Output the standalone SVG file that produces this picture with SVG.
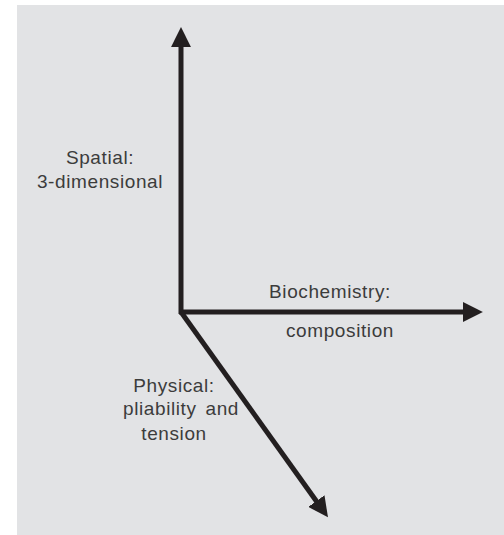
<svg xmlns="http://www.w3.org/2000/svg" width="504" height="535" viewBox="0 0 504 535">
<style>
.ax{stroke:#231f20;stroke-width:5;fill:none}
.lbl{font-family:"Liberation Sans",Arial,sans-serif;font-size:19px;fill:#3c3c3c;letter-spacing:0.6px;text-anchor:middle}
</style>
<defs>
<marker id="ah" markerUnits="userSpaceOnUse" markerWidth="20" markerHeight="20" viewBox="0 0 18 18" refX="1" refY="9" orient="auto">
<path d="M0,0 L18,9 L0,18 Z" fill="#231f20"/>
</marker>
</defs>
<rect x="17" y="5" width="487" height="530" fill="#e2e3e5"/>
<g id="connectors">
<path class="ax" d="M181,314 L181,46" marker-end="url(#ah)"/>
<path class="ax" d="M179,312 L464,312" marker-end="url(#ah)"/>
<path class="ax" d="M181,312 L317,502" marker-end="url(#ah)"/>
</g>
<g id="spatial"><text class="lbl" x="100" y="164">Spatial:</text><text class="lbl" x="100" y="188">3-dimensional</text></g>
<g id="biochemistry"><text class="lbl" x="330" y="298">Biochemistry:</text><text class="lbl" x="340" y="337">composition</text></g>
<g id="physical"><text class="lbl" x="174" y="392">Physical:</text><text class="lbl" x="181" y="415" word-spacing="3">pliability and</text><text class="lbl" x="174" y="440">tension</text></g>
</svg>
